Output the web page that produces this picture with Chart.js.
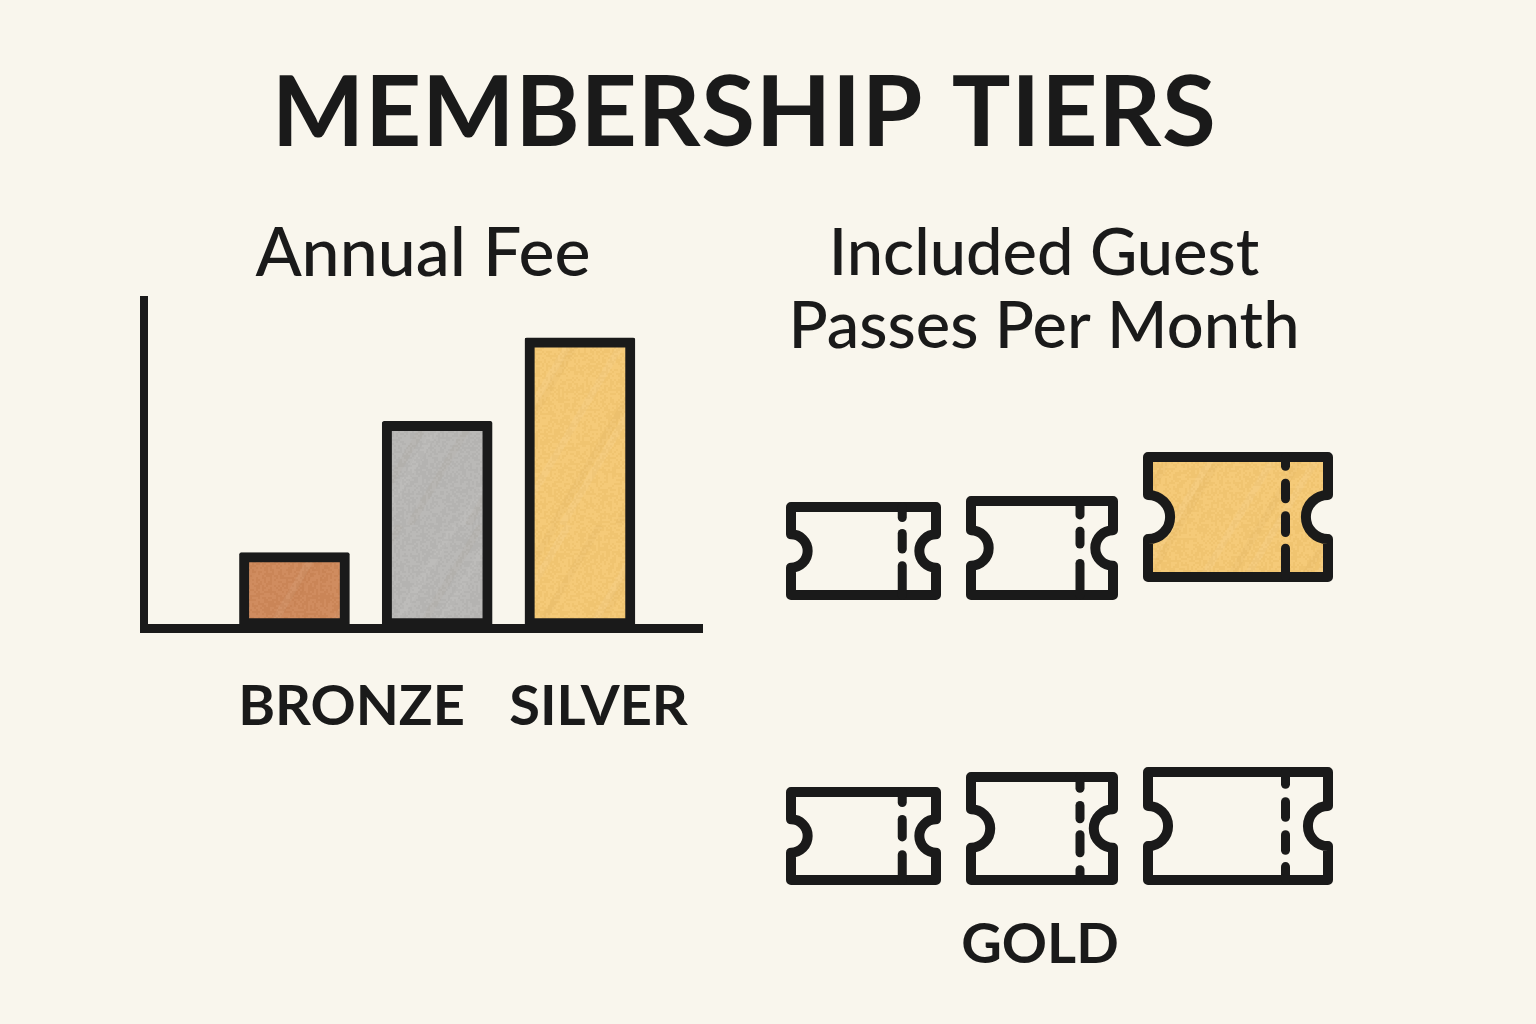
<!DOCTYPE html>
<html>
<head>
<meta charset="utf-8">
<title>Membership Tiers</title>
<script src="https://cdn.jsdelivr.net/npm/chart.js@4/dist/chart.umd.js"></script>
<style>
  html, body { margin: 0; padding: 0; background: #f9f6ed; }
  body { position: relative; width: 1536px; height: 1024px; overflow: hidden; }
  h1 {
    position: absolute; left: 0; top: 41px; width: 1488px; margin: 0;
    text-align: center; color: #1a1a1a;
    font: 700 98px/134px Lato, sans-serif; letter-spacing: 0.7px; word-spacing: 10px;
  }
  canvas { position: absolute; }
  #feeChart { left: 0; top: 205px; }
  #passChart { left: 738px; top: 205px; }
</style>
</head>
<body>
<h1>MEMBERSHIP TIERS</h1>
<canvas id="feeChart" width="720" height="540"></canvas>
<canvas id="passChart" width="612" height="775"></canvas>
<script>
// annual fee bars
const barSlots = [0, 1, 2];
const annualFee = [23, 63, 88.5];
const feeLabels = ['BRONZE', 'SILVER'];
const feeLabelSlots = [0.4, 2.13];
const feeTitle = 'Annual Fee';

// guest pass tickets
const ticketX = [1.255, 3.04, 5.0, 1.255, 3.04, 5.0];
const ticketY = [3.49, 3.52, 3.83, 0.64, 0.715, 0.74];
const ticketWidths = [155, 152, 190, 155, 152, 190];
const ticketHeights = [98, 104, 130, 98, 113, 118];
const ticketFilled = [false, false, true, false, false, false];
const ticketDashes = [
  [[0, .2], [.28, .52], [.61, 1]],
  [[0, .22], [.3, .5], [.61, 1]],
  [[0, .14], [.21, .39], [.46, .65], [.71, 1]],
  [[0, .2], [.29, .55], [.65, 1]],
  [[0, .18], [.26, .45], [.52, .75], [.83, 1]],
  [[0, .18], [.26, .46], [.54, .74], [.81, 1]]
];
const passLabels = ['GOLD'];
const passLabelX = [3.02];
const passTitle = ['Included Guest', 'Passes Per Month'];

const ink = '#1a1a1a';
const bronze = '#cf8859';
const silver = '#b8b7b5';
const gold = '#f5c873';
const fontName = 'Lato, sans-serif';

// marker style fill, streaks + grain
function markerFill(base) {
  const c = document.createElement('canvas');
  c.width = 320;
  c.height = 320;
  const g = c.getContext('2d');
  g.fillStyle = base;
  g.fillRect(0, 0, 320, 320);
  g.lineWidth = 7;
  for (let i = 0; i < 26; i++) {
    const off = i * 32 + Math.sin(i * 2.3) * 14;
    g.strokeStyle = i % 2 ? 'rgba(255,255,255,0.05)' : 'rgba(120,80,30,0.03)';
    g.beginPath();
    g.moveTo(off - 160, 320);
    g.lineTo(off + 30, 0);
    g.stroke();
  }
  for (let y = 0; y < 320; y += 2) {
    for (let x = 0; x < 320; x += 2) {
      const n = Math.sin(x * 12.9898 + y * 78.233) * 43758.5453;
      const v = n - Math.floor(n);
      g.fillStyle = v > 0.5 ? 'rgba(255,255,255,0.04)' : 'rgba(0,0,0,0.02)';
      g.fillRect(x, y, 2, 2);
    }
  }
  return g.createPattern(c, 'repeat');
}

function drawTicket(w, h, filled, dashes) {
  const c = document.createElement('canvas');
  c.width = w;
  c.height = h;
  const g = c.getContext('2d');
  const lw = 10;
  const l = lw / 2, t = lw / 2, r = w - lw / 2, b = h - lw / 2;
  const my = h / 2;
  const notch = h * 0.17;
  g.lineWidth = lw;
  g.lineJoin = 'round';
  g.strokeStyle = ink;
  g.beginPath();
  g.moveTo(l, t);
  g.lineTo(r, t);
  g.lineTo(r, my - notch);
  g.arc(r, my, notch, -Math.PI / 2, Math.PI / 2, true);
  g.lineTo(r, b);
  g.lineTo(l, b);
  g.lineTo(l, my + notch);
  g.arc(l, my, notch, Math.PI / 2, -Math.PI / 2, true);
  g.closePath();
  if (filled) {
    g.fillStyle = markerFill(gold);
    g.fill();
  }
  g.stroke();
  // perforation
  const px = w * 0.75;
  g.lineWidth = 9;
  g.lineCap = 'round';
  dashes.forEach(d => {
    g.beginPath();
    g.moveTo(px, Math.max(d[0] * h, t) + (d[0] > 0 ? 4 : 0));
    g.lineTo(px, Math.min(d[1] * h, b) - (d[1] < 1 ? 4 : 0));
    g.stroke();
  });
  return c;
}

const ticketImages = ticketX.map((_, i) =>
  drawTicket(ticketWidths[i], ticketHeights[i], ticketFilled[i], ticketDashes[i]));

// tick labels must not shrink the plot area
function noLabelPadding(scale) {
  scale.paddingLeft = 0;
  scale.paddingRight = 0;
}

new Chart(document.getElementById('feeChart'), {
  type: 'bar',
  data: {
    datasets: [{
      data: barSlots.map((s, i) => ({ x: s, y: annualFee[i] })),
      backgroundColor: [markerFill(bronze), markerFill(silver), markerFill(gold)],
      borderColor: ink,
      borderWidth: 10,
      borderSkipped: false,
      borderRadius: 2,
      barThickness: 110
    }]
  },
  options: {
    responsive: false,
    animation: false,
    layout: { padding: { left: 144, right: 18 } },
    plugins: {
      legend: { display: false },
      tooltip: { enabled: false },
      title: {
        display: true,
        text: feeTitle,
        color: ink,
        fullSize: false,
        font: { family: fontName, size: 68, weight: '500', lineHeight: 73 / 68 },
        padding: { top: 13, bottom: 9 }
      }
    },
    scales: {
      x: {
        type: 'linear',
        offset: false,
        min: -1.054,
        max: 2.855,
        grid: { display: false },
        border: { color: ink, width: 9, z: 2 },
        afterBuildTicks(scale) { scale.ticks = feeLabelSlots.map(v => ({ value: v })); },
        afterFit(scale) {
          scale.height = 117;
          noLabelPadding(scale);
        },
        ticks: {
          autoSkip: false,
          maxRotation: 0,
          padding: 37,
          color: ink,
          font: { family: fontName, size: 56, weight: '700' },
          callback: (value, index) => feeLabels[index]
        }
      },
      y: {
        min: 0,
        max: 100,
        grid: { display: false },
        border: { color: ink, width: 8, z: 2 },
        ticks: { display: false },
        afterFit(scale) { scale.width = 0; }
      }
    }
  }
});

new Chart(document.getElementById('passChart'), {
  type: 'scatter',
  data: {
    datasets: [{
      data: ticketX.map((x, i) => ({ x: x, y: ticketY[i] })),
      pointStyle: ctx => ticketImages[ctx.dataIndex],
      pointRadius: 10
    }]
  },
  options: {
    responsive: false,
    animation: false,
    layout: { autoPadding: false },
    plugins: {
      legend: { display: false },
      tooltip: { enabled: false },
      title: {
        display: true,
        text: passTitle,
        color: ink,
        fullSize: false,
        font: { family: fontName, size: 65, weight: '500', lineHeight: 73 / 65 },
        padding: { top: 13, bottom: 76 }
      }
    },
    scales: {
      x: {
        type: 'linear',
        min: 0,
        max: 6.12,
        grid: { display: false },
        border: { display: false },
        afterBuildTicks(scale) { scale.ticks = passLabelX.map(v => ({ value: v })); },
        afterFit(scale) {
          scale.height = 80;
          noLabelPadding(scale);
        },
        ticks: {
          autoSkip: false,
          maxRotation: 0,
          padding: 3,
          color: ink,
          font: { family: fontName, size: 56, weight: '700' },
          callback: (value, index) => passLabels[index]
        }
      },
      y: { display: false, min: 0, max: 4.6 }
    }
  }
});
</script>
</body>
</html>
